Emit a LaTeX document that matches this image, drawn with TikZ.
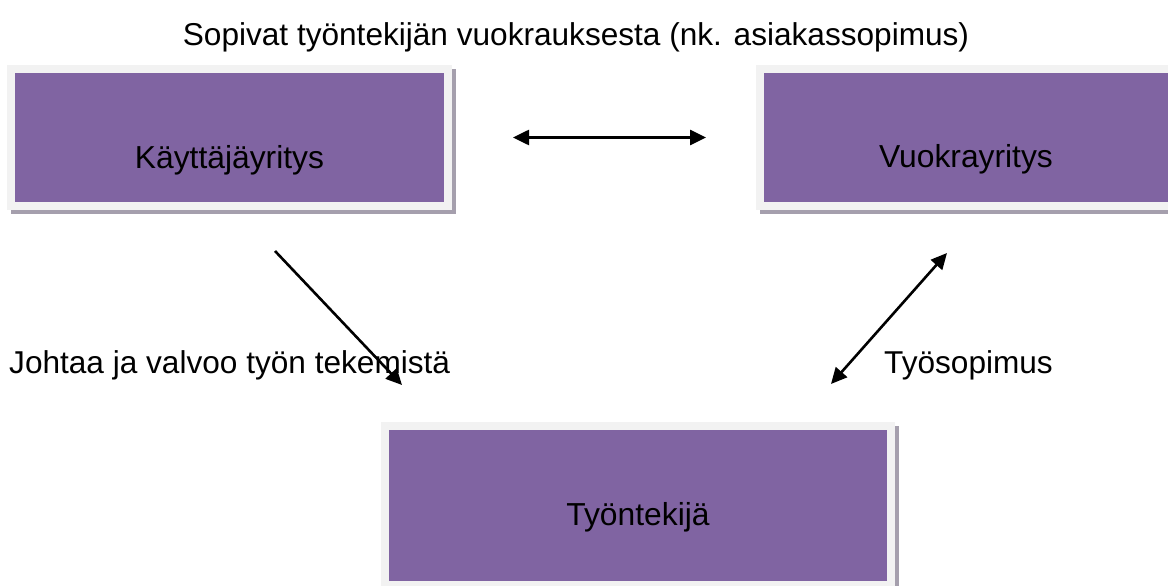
\documentclass[tikz,border=0pt]{standalone}
\usepackage{fontspec}
\setmainfont{Liberation Sans}
\usetikzlibrary{arrows.meta,backgrounds}
\definecolor{boxpurple}{HTML}{8064A2}
\definecolor{boxrim}{HTML}{F2F2F2}
\definecolor{boxshadow}{HTML}{A59FAD}
\tikzset{
  lbl/.style={font=\fontsize{31.6}{38}\selectfont, inner sep=0pt, anchor=base west, text=black},
  entity/.style={fill=boxpurple, draw=boxrim, line width=8pt, inner sep=0pt,
    font=\fontsize{31.8}{38}\selectfont, text=black},
  shadowbox/.style={fill=boxshadow},
  link/.style={line width=2.6pt, -{Triangle[length=16pt,width=15pt]}},
  dbllink/.style={line width=2.6pt, {Triangle[length=16pt,width=15pt]}-{Triangle[length=16pt,width=15pt]}},
}
\begin{document}
\begin{tikzpicture}[x=1pt,y=-1pt]
\useasboundingbox (0,0) rectangle (1168,586);
\clip (0,0) rectangle (1168,586);

\node[entity, minimum width=437pt, minimum height=137pt, text height=61pt, text depth=0pt]
  (k) at (229.5,137.5) {Käyttäjäyritys};
\node[entity, minimum width=412pt, minimum height=137pt, text height=60pt, text depth=0pt]
  (v) at (966,137.5) {Vuokrayritys};
\node[entity, minimum width=506pt, minimum height=159pt, text height=39pt, text depth=0pt]
  (t) at (638,505.5) {Työntekijä};

\begin{scope}[on background layer]
  \fill[white] (0,0) rectangle (1168,586);
  \foreach \n in {k,v,t}
    \fill[shadowbox] ([shift={(3.5,4)}]\n.north west) rectangle ([shift={(3.5,4)}]\n.south east);
\end{scope}

\node[lbl, anchor=base] (title) at (576,46) {Sopivat työntekijän vuokrauksesta (nk. asiakassopimus)};
\node[lbl] (johtaa) at (9,373) {Johtaa ja valvoo työn tekemistä};
\node[lbl] (tyosop) at (884,373) {Työsopimus};

\draw[dbllink, shorten <=61pt, shorten >=50pt] (k.east) -- (v.west);
\draw[link] ([shift={(45.5,41)}]k.south) -- ([shift={(-236,-37)}]t.north);
\draw[dbllink] ([shift={(193,-38)}]t.north) -- ([shift={(-19,43)}]v.south);
\end{tikzpicture}
\end{document}
